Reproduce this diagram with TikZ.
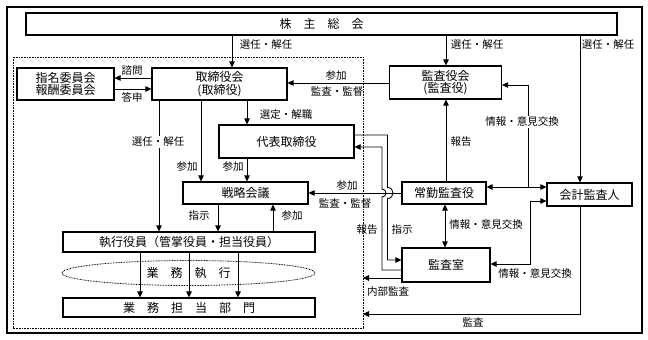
\documentclass[tikz,border=0pt]{standalone}
\usepackage{fontspec}
\newfontfamily\jp{Noto Sans CJK JP}
\usetikzlibrary{arrows.meta,calc,shapes.geometric}
\begin{document}
\begin{tikzpicture}[x=1pt,y=-1pt,
  box/.style={draw,line width=1.1pt,inner sep=0pt,font=\jp\fontsize{12}{12.5}\selectfont,align=center},
  lab/.style={font=\jp\fontsize{10.5}{12}\selectfont,inner sep=1pt},
  labw/.style={lab,fill=white},
  arr/.style={line width=0.9pt,-{Triangle[length=6pt,width=5.5pt]}},
  darr/.style={line width=0.9pt,{Triangle[length=6pt,width=5.5pt]}-{Triangle[length=6pt,width=5.5pt]}},
  ln/.style={line width=0.9pt},
  dotline/.style={line width=0.8pt,dash pattern=on 0.8pt off 0.8pt}]
\useasboundingbox (0,0) rectangle (648,340);
\draw[line width=1.3pt] (7,7) rectangle (642,333);
\draw[dotline] (13,57) rectangle (363,328);

% nodes
\node[box,minimum width=591pt,minimum height=22pt] (sh) at (321.5,24) {株　主　総　会};
\node[box,minimum width=135pt,minimum height=32pt] (tb) at (219.5,84) {取締役会\\(取締役)};
\node[box,minimum width=97pt,minimum height=32pt] (nm) at (65.5,84) {指名委員会\\報酬委員会};
\node[box,minimum width=112pt,minimum height=33pt] (ka) at (445.5,82.5) {監査役会\\(監査役)};
\node[box,minimum width=135pt,minimum height=33pt] (dh) at (286.5,141.5) {代表取締役};
\node[box,minimum width=125pt,minimum height=22pt] (sr) at (245.5,193) {戦略会議};
\node[box,minimum width=252pt,minimum height=20pt] (sk) at (189,242) {執行役員（管掌役員・担当役員）};
\node[ellipse,draw,dotline,inner sep=0pt,minimum width=253pt,minimum height=25pt,font=\jp\fontsize{12}{12.5}\selectfont] (ex) at (188.5,273) {業　務　執　行};
\node[box,minimum width=252pt,minimum height=19pt] (gb) at (189,307.5) {業　務　担　当　部　門};
\node[box,minimum width=84pt,minimum height=22pt] (jk) at (444,193) {常勤監査役};
\node[box,minimum width=85pt,minimum height=23pt] (kk) at (589.5,194.5) {会計監査人};
\node[box,minimum width=88pt,minimum height=34pt] (ks) at (446,265) {監査室};

% helper coordinates
\coordinate (xa) at (232,0);
\coordinate (xb) at (446,0);
\coordinate (xc) at (580,0);
\coordinate (ya) at (0,78);
\coordinate (yb) at (0,89);
\coordinate (yc) at (0,83);
\coordinate (xd) at (159,0);
\coordinate (xe) at (201,0);
\coordinate (xf) at (247,0);
\coordinate (xg) at (218,0);
\coordinate (xh) at (273,0);
\coordinate (xi) at (140,0);
\coordinate (xj) at (189,0);
\coordinate (xk) at (238,0);
\coordinate (yd) at (0,193);
\coordinate (ye) at (0,85);
\coordinate (jc) at (528,187);
\coordinate (yf) at (0,187);
\coordinate (yg) at (0,201);
\coordinate (xl) at (530,264);
\coordinate (yh) at (0,264);
\coordinate (xm) at (445,0);
\coordinate (yi) at (0,270);
\coordinate (yj) at (0,147);
\coordinate (yk) at (0,135);
\coordinate (yl) at (0,260);
\coordinate (ym) at (0,278);
\coordinate (ie) at (363,278);
\coordinate (ae) at (363,314);

% connectors
\draw[arr] (sh.south -| xa) -- (tb.north -| xa);
\draw[arr] (sh.south -| xb) -- (ka.north -| xb);
\draw[arr] (sh.south -| xc) -- (kk.north -| xc);
\draw[arr] (tb.west |- ya) -- (nm.east |- ya);
\draw[arr] (nm.east |- yb) -- (tb.west |- yb);
\draw[arr] (ka.west |- yc) -- (tb.east |- yc);
\draw[arr] (tb.south -| xd) -- (sk.north -| xd);
\draw[arr] (tb.south -| xe) -- (sr.north -| xe);
\draw[arr] (tb.south -| xf) -- (dh.north -| xf);
\draw[arr] (dh.south -| xf) -- (sr.north -| xf);
\draw[arr] (sr.south -| xg) -- (sk.north -| xg);
\draw[arr] (sk.north -| xh) -- (sr.south -| xh);
\draw[arr] (sk.south -| xi) -- (gb.north -| xi);
\draw[arr] (sk.south -| xj) -- (gb.north -| xj);
\draw[arr] (sk.south -| xk) -- (gb.north -| xk);
\draw[arr] (jk.west |- yd) -- (sr.east |- yd);
\draw[arr] (jk.north -| xb) -- (ka.south -| xb);
\draw[arr] (jc) |- (ka.east |- ye);
\draw[darr] (jk.east |- yf) -- (kk.west |- yf);
\draw[darr] (kk.west |- yg) -| (xl) -- (ks.east |- yh);
\draw[darr] (jk.south -| xm) -- (ks.north -| xm);
\draw[arr] (ks.west |- yi) -- (382,270) -- (382,197) .. controls (387.3,197) and (387.3,189) .. (382,189) -- (382,147) -- (dh.east |- yj);
\draw[arr] (dh.east |- yk) -- (387.5,135) -- (387.5,187.5) .. controls (394.8,187.5) and (394.8,198.5) .. (387.5,198.5) -- (387.5,260) -- (ks.west |- yl);
\draw[arr] (ks.west |- ym) -- (ie);
\draw[arr] (kk.south -| xc) |- (ae);

% labels
\node[lab] (l1) at (266,45) {選任・解任};
\node[lab] (l2) at (477,45) {選任・解任};
\node[lab] (l3) at (608,45) {選任・解任};
\node[lab] (l4) at (132,71) {諮問};
\node[lab] (l5) at (132,97) {答申};
\node[lab] (l6) at (336,76) {参加};
\node[lab] (l7) at (337,92) {監査・監督};
\node[labw] (l8) at (158,142) {選任・解任};
\node[lab] (l9) at (187,167) {参加};
\node[lab] (l10) at (233,167) {参加};
\node[lab] (l11) at (286,115) {選定・解職};
\node[lab] (l12) at (199,216) {指示};
\node[lab] (l13) at (292,216) {参加};
\node[lab] (l14) at (347,186) {参加};
\node[lab] (l15) at (345,204) {監査・監督};
\node[lab] (l16) at (461,142) {報告};
\node[labw] (l17) at (522,122) {情報・意見交換};
\node[lab] (l18) at (367,230) {報告};
\node[lab] (l19) at (402,230) {指示};
\node[lab] (l20) at (486,225) {情報・意見交換};
\node[lab] (l21) at (535,274) {情報・意見交換};
\node[lab] (l22) at (388,292) {内部監査};
\node[lab] (l23) at (473,322) {監査};
\end{tikzpicture}
\end{document}
